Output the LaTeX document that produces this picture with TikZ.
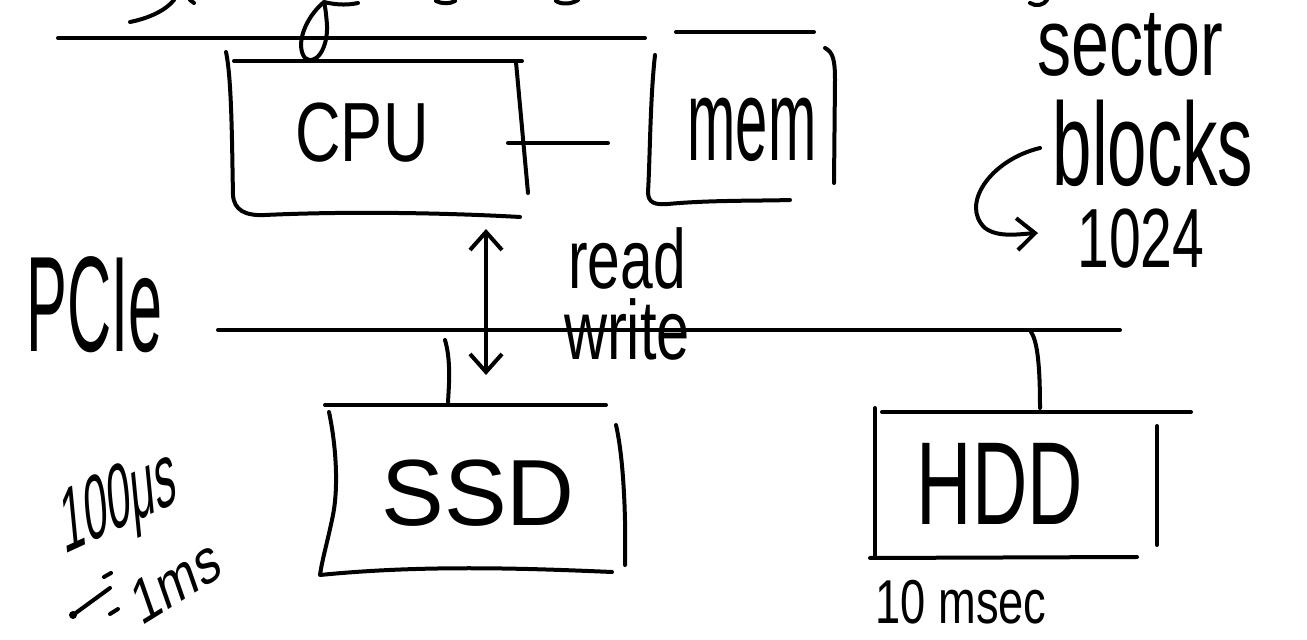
\documentclass[tikz,border=0pt]{standalone}
\usepackage{fontspec}
\setmainfont{Liberation Sans}
\usetikzlibrary{arrows.meta}
\tikzset{
  pen/.style={line width=2pt,line cap=round,line join=round},
  hw/.style={inner sep=0pt,anchor=center},
  barb/.style={-{Straight Barb[length=9pt,width=16pt,line width=2pt]}},
  barbs/.style={{Straight Barb[length=9pt,width=16pt,line width=2pt]}-{Straight Barb[length=9pt,width=16pt,line width=2pt]}}
}
\begin{document}
\begin{tikzpicture}[x=0.5pt,y=-0.5pt]
\useasboundingbox[fill=white] (0,0) rectangle (1307,640);

% ---- cut-off handwriting at the top edge
\draw[pen] (130,22) .. controls (150,18) and (166,10) .. (174,0);
\draw[pen] (358,3) .. controls (345,6) and (332,4) .. (324,2)
  .. controls (305,18) and (295,45) .. (305,58)
  .. controls (315,66) and (328,50) .. (327,25) .. controls (326,12) and (325,6) .. (324,2);
\draw[pen] (190,0) -- (194,3);
\draw[pen] (436,1) .. controls (442,4) and (450,4) .. (455,1);
\draw[pen] (556,1) .. controls (562,5) and (572,4) .. (578,0);
\draw[pen] (1030,3) .. controls (1036,7) and (1044,5) .. (1047,0);

% ---- memory bus
\coordinate (mbL) at (58,38);
\coordinate (mbR) at (645,38);
\draw[pen] (mbL) -- (mbR);
\coordinate (mtL) at (676,32);
\coordinate (mtR) at (814,32);
\draw[pen] (mtL) -- (mtR);

% ---- CPU box
\node[hw,font=\fontsize{42}{42}\selectfont,xscale=0.75] (cpu) at (362,133) {CPU};
\draw[pen] (234,61) -- (522,61);
\draw[pen] (226,52) .. controls (232,80) and (232,150) .. (233,195)
  .. controls (234,210) and (245,216) .. (265,215)
  .. controls (350,211) and (450,213) .. (520,217);
\draw[pen] (516,62) -- (528,193);

% ---- CPU - memory link
\coordinate (cpuR) at (508,143);
\coordinate (memL) at (608,143);
\draw[pen] (cpuR) -- (memL);

% ---- memory box
\node[hw,font=\fontsize{58}{58}\selectfont,xscale=0.5] (mem) at (752,130) {mem};
\draw[pen] (655,55) .. controls (650,100) and (650,160) .. (648,192)
  .. controls (648,203) and (655,205) .. (668,204)
  .. controls (710,200) and (760,201) .. (790,200);
\draw[pen] (825,48) .. controls (833,52) and (835,60) .. (835,80) -- (834,183);

% ---- PCIe bus
\node[hw,font=\fontsize{68}{68}\selectfont,xscale=0.45] (pcie) at (95,305) {PCIe};
\coordinate (pbL) at (218,330);
\coordinate (pbR) at (1120,330);
\draw[pen] (pbL) -- (pbR);

% ---- read / write arrow
\coordinate (rwT) at (486,229);
\coordinate (rwB) at (486,375);
\draw[pen,barbs] (rwT) -- (rwB);
\node[hw,font=\fontsize{42}{42}\selectfont,xscale=0.7] (read) at (627,258) {read};
\node[hw,font=\fontsize{42}{42}\selectfont,xscale=0.71] (write) at (627,329) {write};

% ---- SSD
\node[hw,font=\fontsize{47}{47}\selectfont] (ssd) at (478,493) {SSD};
\coordinate (ssdBus) at (445,340);
\coordinate (ssdTop) at (448,402);
\draw[pen] (ssdBus) .. controls (451,360) and (449,385) .. (ssdTop);
\draw[pen] (325,405) -- (606,405);
\draw[pen] (329,412) .. controls (337,450) and (338,490) .. (333,515)
  .. controls (328,540) and (322,560) .. (320,575)
  .. controls (420,565) and (520,568) .. (612,572);
\draw[pen] (616,425) .. controls (624,460) and (626,520) .. (625,565);

% ---- HDD
\node[hw,font=\fontsize{59}{59}\selectfont,xscale=0.65] (hdd) at (1000,484) {HDD};
\coordinate (hddBus) at (1031,332);
\coordinate (hddTop) at (1040,408);
\draw[pen] (hddBus) .. controls (1038,342) and (1040,370) .. (hddTop);
\draw[pen] (882,412) -- (1191,412);
\draw[pen] (875,408) -- (875,557);
\draw[pen] (870,558) -- (1137,557);
\draw[pen] (1157,426) -- (1157,545);
\node[hw,font=\fontsize{31}{31}\selectfont,xscale=0.73] (hddt) at (961,602) {10 msec};

% ---- sector / blocks / 1024
\node[hw,font=\fontsize{48}{48}\selectfont,xscale=0.71] (sector) at (1130,45) {sector};
\node[hw,font=\fontsize{59}{59}\selectfont,xscale=0.6] (blocks) at (1153,143) {blocks};
\node[hw,font=\fontsize{42}{42}\selectfont,xscale=0.68] (n1024) at (1141,239) {1024};
\coordinate (hkS) at (1040,148);
\coordinate (hkE) at (1038,233);
\draw[pen,barb] (hkS) .. controls (990,160) and (960,205) .. (985,228)
  .. controls (998,238) and (1020,234) .. (hkE);

% ---- SSD timing notes
\node[hw,font=\fontsize{46}{46}\selectfont,xscale=0.46,rotate=12] (t100) at (119,505) {100μs};
\node[hw,font=\fontsize{32}{32}\selectfont,xscale=0.75,rotate=25] (t1) at (176,581) {1ms};
\draw[pen] (104,577) -- (111,573);
\draw[pen] (110,614) -- (118,609);
\coordinate (dotA) at (73,615);
\coordinate (dotB) at (110,588);
\draw[pen] (dotA) -- (dotB);
\fill (dotA) circle (4);
\end{tikzpicture}
\end{document}
